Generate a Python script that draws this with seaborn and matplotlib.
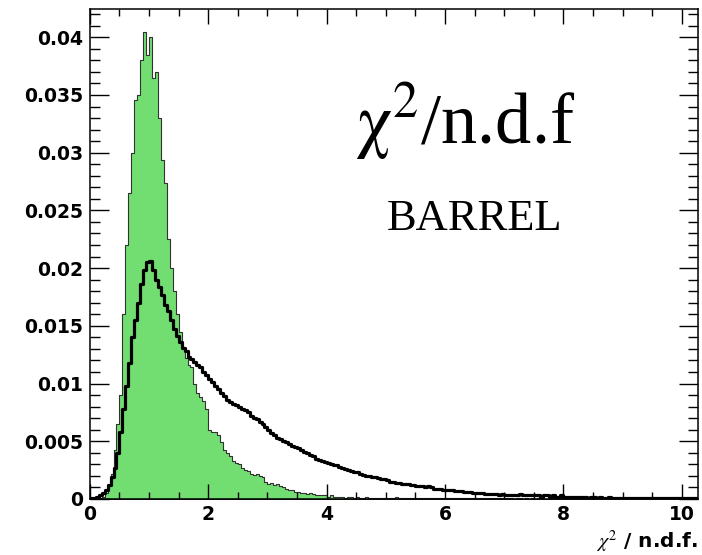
import numpy as np
import pandas as pd
import matplotlib
matplotlib.use("Agg")
import matplotlib.pyplot as plt
from matplotlib.ticker import MultipleLocator, FuncFormatter
import seaborn as sns

# Histogram binning: 0.05 wide bins from 0 to 10.25
bin_width = 0.05
n_bins = 205

# Normalised chi2/ndf distribution, filled (green) sample
green_counts = [
    0.0000, 0.0000, 0.0001, 0.0001, 0.0002, 0.0005, 0.0012, 0.0022, 0.0042, 0.0065,
    0.0090, 0.0160, 0.0220, 0.0265, 0.0300, 0.0346, 0.0350, 0.0380, 0.0405, 0.0385,
    0.0400, 0.0365, 0.0370, 0.0330, 0.0294, 0.0274, 0.0225, 0.0200, 0.0180, 0.0160,
    0.0145, 0.0132, 0.0122, 0.0116, 0.0114, 0.0100, 0.0092, 0.0088, 0.0085, 0.0078,
    0.0060, 0.0058, 0.0058, 0.0055, 0.0049, 0.0042, 0.0040, 0.0037, 0.0033, 0.0031,
    0.0030, 0.0027, 0.0025, 0.0024, 0.0022, 0.0021, 0.0022, 0.0020, 0.0019, 0.0015,
    0.0013, 0.0014, 0.0012, 0.0013, 0.0011, 0.0010, 0.0009, 0.0008, 0.0008, 0.0006,
    0.0006, 0.0005, 0.0005, 0.0004, 0.0005, 0.0004, 0.0003, 0.0003, 0.0003, 0.0003,
    0.0002, 0.0003, 0.0002, 0.0002, 0.0002, 0.0002, 0.0001, 0.0002, 0.0002, 0.0001,
    0.0002, 0.0001, 0.0001, 0.0002, 0.0001, 0.0001, 0.0001, 0.0001, 0.0001, 0.0001,
    0.0001, 0.0001, 0.0001, 0.0002, 0.0001, 0.0001, 0.0001, 0.0001, 0.0001, 0.0001,
    0.0001, 0.0001, 0.00005, 0.0001, 0.0001, 0.00005, 0.0001, 0.0001, 0.00005, 0.0001,
    0.0001, 0.00005, 0.0001, 0.00005, 0.00005, 0.0001, 0.00005, 0.00005, 0.0001, 0.00005,
    0.00005, 0.00005, 0.0001, 0.00005, 0.00005, 0.00005, 0.00005, 0.0001, 0.00005, 0.00005,
    0.00005, 0.00005, 0.00005, 0.00003, 0.00005, 0.00005, 0.00003, 0.00005, 0.00003, 0.00005,
    0.00003, 0.00005, 0.00003, 0.00003, 0.00002, 0.00003, 0.00003, 0.00002, 0.00003, 0.00002,
    0.00002, 0.00003, 0.00002, 0.00002, 0.00002, 0.00001, 0.00002, 0.00002, 0.00001, 0.00002,
    0.00001, 0.00002, 0.00001, 0.00001, 0.00002, 0.00001, 0.00001, 0.00001, 0.00002, 0.00001,
    0.00001, 0.00001, 0.00001, 0.00001, 0.00001, 0.00002, 0.00001, 0.00001, 0.00001, 0.00001,
    0.00001, 0.00001, 0.00001, 0.00001, 0.00001, 0.00001, 0.00001, 0.00001, 0.00001, 0.00001,
    0.00001, 0.00001, 0.00001, 0.00001, 0.00001,
]

# Normalised chi2/ndf distribution, outlined (black) sample
black_counts = [
    0.0001, 0.0001, 0.0002, 0.0003, 0.0005, 0.0008, 0.0012, 0.0019, 0.0027, 0.0040,
    0.0058, 0.0078, 0.0098, 0.0118, 0.0140, 0.0155, 0.0170, 0.0186, 0.0198, 0.0205,
    0.0206, 0.0198, 0.0190, 0.0184, 0.0177, 0.0168, 0.0163, 0.0155, 0.0147, 0.0141,
    0.0136, 0.0131, 0.0128, 0.0123, 0.0121, 0.0119, 0.0116, 0.0114, 0.0110, 0.0107,
    0.0104, 0.0101, 0.0098, 0.0095, 0.0092, 0.0089, 0.0086, 0.0084, 0.0082, 0.0081,
    0.0080, 0.0078, 0.0077, 0.0075, 0.0072, 0.0070, 0.0069, 0.0067, 0.0065, 0.0062,
    0.0060, 0.0057, 0.0055, 0.0053, 0.0052, 0.0050, 0.0049, 0.0048, 0.0046, 0.0045,
    0.0044, 0.0042, 0.0041, 0.0040, 0.0038, 0.0037, 0.0035, 0.0034, 0.0033, 0.0032,
    0.0031, 0.0030, 0.0029, 0.0029, 0.0028, 0.0027, 0.0026, 0.0025, 0.0024, 0.0023,
    0.0023, 0.0022, 0.0021, 0.0020, 0.0020, 0.0019, 0.0019, 0.0018, 0.0017, 0.0017,
    0.0016, 0.0015, 0.0015, 0.0014, 0.0014, 0.0013, 0.0013, 0.0013, 0.0012, 0.0012,
    0.0011, 0.0011, 0.0011, 0.0010, 0.0011, 0.0010, 0.0009, 0.0009, 0.0009, 0.0008,
    0.0008, 0.0008, 0.0008, 0.0007, 0.0007, 0.0007, 0.0006, 0.0006, 0.0006, 0.0005,
    0.0005, 0.0005, 0.0005, 0.0004, 0.0004, 0.0004, 0.0004, 0.0004, 0.0003, 0.0004,
    0.0003, 0.0003, 0.0003, 0.0003, 0.0003, 0.0004, 0.0003, 0.0003, 0.0003, 0.0003,
    0.0003, 0.0003, 0.0002, 0.0003, 0.0003, 0.0002, 0.0003, 0.0002, 0.0002, 0.0003,
    0.0002, 0.0002, 0.0002, 0.0002, 0.0002, 0.0002, 0.0002, 0.0002, 0.0001, 0.0002,
    0.0002, 0.0001, 0.0002, 0.0001, 0.0001, 0.0002, 0.0001, 0.0001, 0.0001, 0.0001,
    0.0001, 0.0001, 0.0001, 0.0001, 0.0001, 0.0001, 0.0001, 0.0001, 0.0001, 0.0001,
    0.0001, 0.0001, 0.0001, 0.0001, 0.0001, 0.0001, 0.0001, 0.0001, 0.0001, 0.0001,
    0.0001, 0.0001, 0.0001, 0.0001, 0.0001,
]

x_tick_labels = ["0", "2", "4", "6", "8", "10"]

edges = [round(i * bin_width, 4) for i in range(n_bins + 1)]
centers = [e + bin_width / 2 for e in edges[:-1]]
df = pd.DataFrame({"chi2": centers, "green": green_counts, "black": black_counts})

plt.rcParams["mathtext.fontset"] = "custom"
plt.rcParams["mathtext.rm"] = "STIXGeneral"
plt.rcParams["mathtext.it"] = "STIXGeneral:italic"
plt.rcParams["mathtext.bf"] = "STIXGeneral:bold"

fig = plt.figure(figsize=(7.02, 5.55), dpi=100)
ax = fig.add_axes([0.128, 0.101, 0.866, 0.883])

sns.histplot(data=df, x="chi2", weights="green", bins=edges, element="step",
             fill=True, color="#72de72", alpha=1.0, edgecolor="#333333",
             linewidth=0.8, ax=ax)
sns.histplot(data=df, x="chi2", weights="black", bins=edges, element="step",
             fill=False, color="black", linewidth=2.3, ax=ax)

ax.set_xlim(0, 10.27)
ax.set_ylim(0, 0.04246)
ax.set_xlabel("")
ax.set_ylabel("")

ax.xaxis.set_major_locator(MultipleLocator(2))
ax.xaxis.set_minor_locator(MultipleLocator(0.5))
ax.yaxis.set_major_locator(MultipleLocator(0.005))
ax.yaxis.set_minor_locator(MultipleLocator(0.001))


def x_label(v, _):
    k = int(round(v / 2))
    return x_tick_labels[k] if 0 <= k < len(x_tick_labels) else ""


ax.xaxis.set_major_formatter(FuncFormatter(x_label))
ax.yaxis.set_major_formatter(FuncFormatter(lambda v, _: f"{v:g}"))

ax.tick_params(which="both", direction="in", top=True, right=True, color="black", width=1.0)
ax.tick_params(axis="y", which="major", length=14, pad=5)
ax.tick_params(axis="y", which="minor", length=7)
ax.tick_params(axis="x", which="major", length=11, pad=4)
ax.tick_params(axis="x", which="minor", length=5)
for lab in ax.get_xticklabels() + ax.get_yticklabels():
    lab.set_fontfamily("DejaVu Sans")
    lab.set_fontweight("bold")
    lab.set_fontsize(13.5)
for sp in ax.spines.values():
    sp.set_linewidth(1.1)
    sp.set_color("black")

fig.text(0.994, 0.023, r"$\mathit{\chi}^{2}$ / n.d.f.", ha="right", va="center",
         fontsize=14.5, fontweight="bold", family="DejaVu Sans")

fig.text(0.506, 0.742, r"$\mathrm{\chi}^{2}$/n.d.f", ha="left", va="baseline",
         fontsize=52, family="Liberation Serif")
fig.text(0.551, 0.586, "BARREL", ha="left", va="baseline",
         fontsize=32, family="Liberation Serif")

fig.savefig("out.png", dpi=100, facecolor="white")
